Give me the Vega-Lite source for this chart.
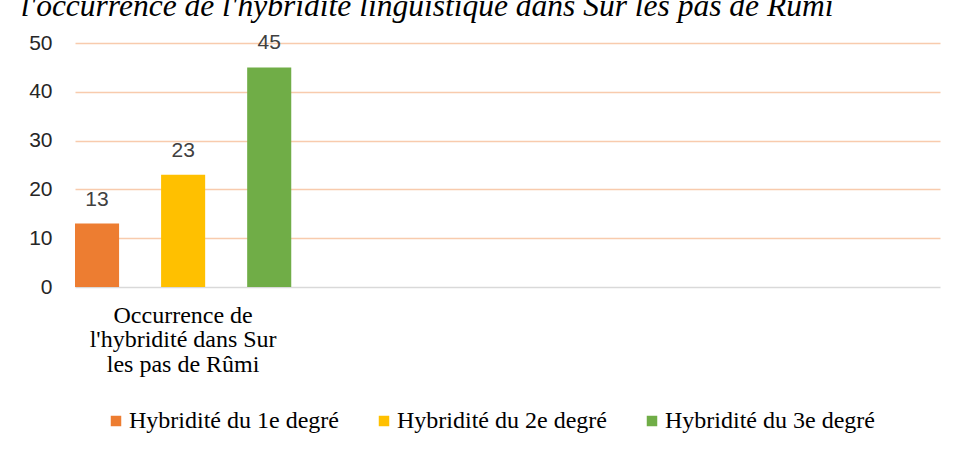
{
  "$schema": "https://vega.github.io/schema/vega-lite/v6.json",
  "autosize": {"type": "none"},
  "width": 865,
  "height": 244,
  "padding": {"left": 75, "top": 43, "right": 16, "bottom": 163},
  "background": "white",
  "title": {
    "text": "l'occurrence de l'hybridité linguistique dans Sur les pas de Rûmi",
    "font": "Liberation Serif",
    "fontStyle": "italic",
    "fontWeight": "normal",
    "fontSize": 31.5,
    "color": "#000000",
    "anchor": "start",
    "frame": "bounds",
    "offset": 10,
    "dx": -8
  },
  "config": {"view": {"stroke": null}},
  "data": {
    "values": [
      {"category": "Occurrence de|l'hybridité dans Sur|les pas de Rûmi", "series": "Hybridité du 1e degré", "value": 13},
      {"category": "Occurrence de|l'hybridité dans Sur|les pas de Rûmi", "series": "Hybridité du 2e degré", "value": 23},
      {"category": "Occurrence de|l'hybridité dans Sur|les pas de Rûmi", "series": "Hybridité du 3e degré", "value": 45}
    ]
  },
  "encoding": {
    "x": {
      "field": "category",
      "type": "nominal",
      "title": null,
      "scale": {
        "domain": ["Occurrence de|l'hybridité dans Sur|les pas de Rûmi", "e1", "e2", "e3"],
        "paddingInner": 0,
        "paddingOuter": 0
      },
      "axis": {
        "domain": false,
        "ticks": false,
        "labelAngle": 0,
        "labelExpr": "indexof(datum.label, '|') >= 0 ? split(datum.label, '|') : ''",
        "labelFont": "Liberation Serif",
        "labelFontSize": 24,
        "labelColor": "#000000",
        "labelLineHeight": 24.5,
        "labelPadding": 16,
        "labelBaseline": "top",
        "labelLimit": 0
      }
    },
    "xOffset": {
      "field": "series",
      "type": "nominal",
      "scale": {"paddingInner": 0.488, "paddingOuter": 0}
    },
    "y": {
      "field": "value",
      "type": "quantitative",
      "title": null,
      "scale": {"domain": [0, 50], "nice": false},
      "axis": {
        "values": [0, 10, 20, 30, 40, 50],
        "domain": false,
        "ticks": false,
        "grid": true,
        "gridColor": {"condition": {"test": "datum.value === 0", "value": "#d9d9d9"}, "value": "#f8cbad"},
        "gridWidth": 1.6,
        "labelFont": "Liberation Sans",
        "labelFontSize": 21,
        "labelColor": "#262626",
        "labelPadding": 23
      }
    }
  },
  "layer": [
    {
      "mark": {"type": "bar"},
      "encoding": {
        "color": {
          "field": "series",
          "type": "nominal",
          "scale": {"range": ["#ED7D31", "#FFC000", "#70AD47"]},
          "legend": {
            "title": null,
            "orient": "none",
            "direction": "horizontal",
            "legendX": 29,
            "legendY": 366,
            "symbolType": "square",
            "symbolSize": 110,
            "symbolStrokeWidth": 0,
            "labelFont": "Liberation Serif",
            "labelFontSize": 24,
            "labelColor": "#000000",
            "labelOffset": 1,
            "labelLimit": 0,
            "columnPadding": 33
          }
        }
      }
    },
    {
      "mark": {"type": "text", "baseline": "alphabetic", "dy": -18, "font": "Liberation Sans", "fontSize": 21, "color": "#404040"},
      "encoding": {"text": {"field": "value", "type": "quantitative"}}
    }
  ]
}
